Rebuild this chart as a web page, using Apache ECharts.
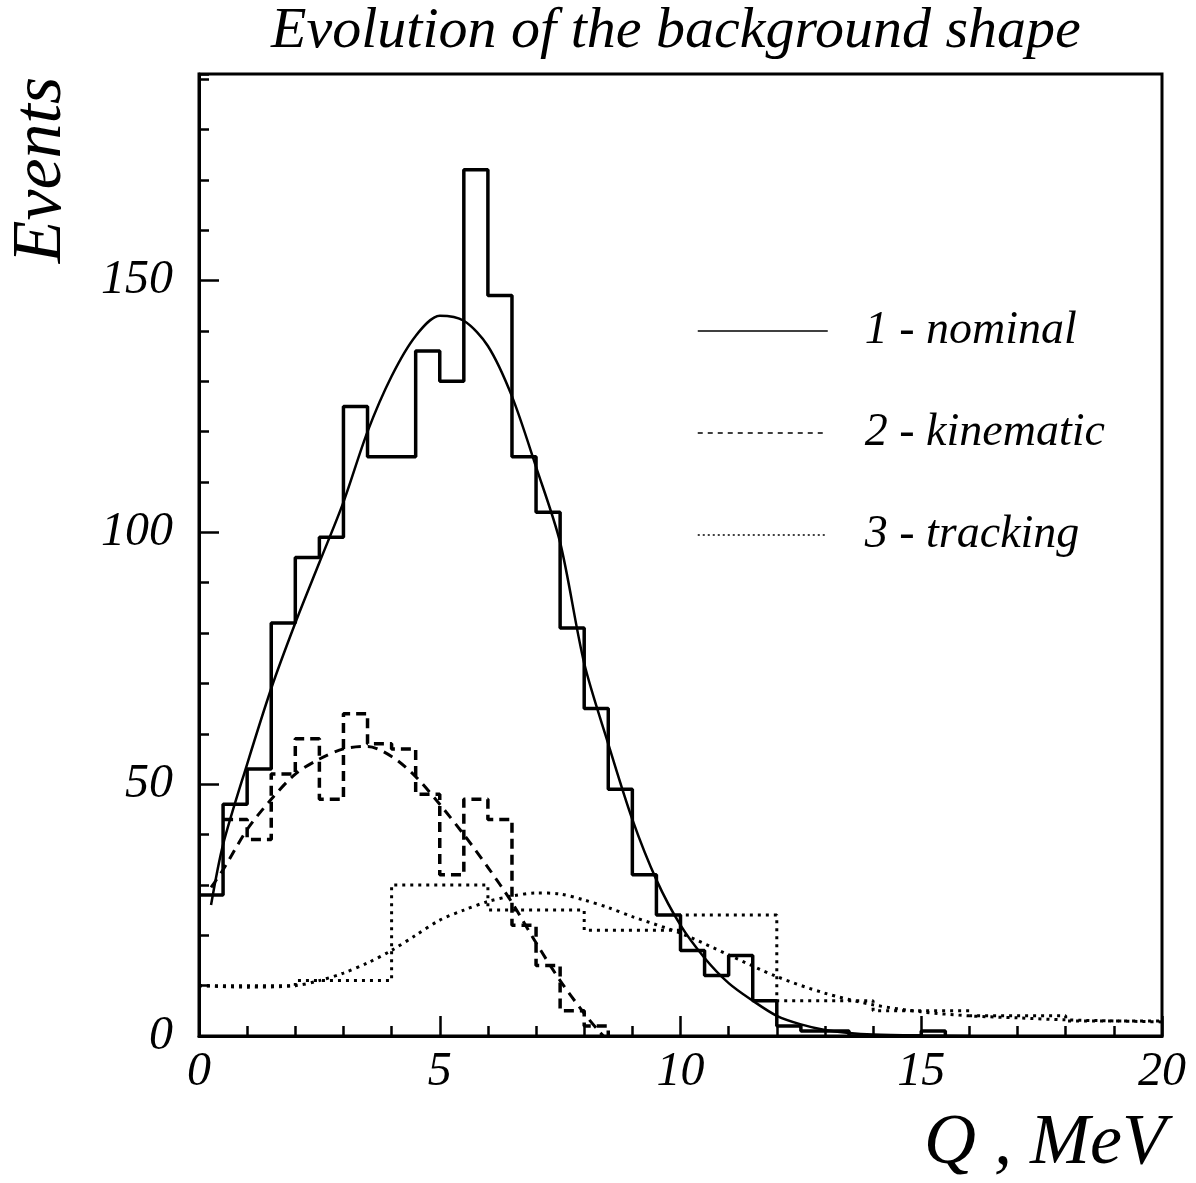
<!DOCTYPE html>
<html style="height: 100%">

<head>
    <meta charset="utf-8">
    <script type="text/javascript" src="https://cdn.jsdelivr.net/npm/echarts@6/dist/echarts.min.js"></script>
</head>

<body style="height: 100%; margin: 0; background: #fff">

    <div id="bgChart" style="height: 1183px;width: 1196px;"></div>

    <script type="text/javascript">
        // histogram bins (left edges, MeV) and contents
        var nomEdges = [0, 0.5, 1, 1.5, 2, 2.5, 3, 3.5, 4, 4.5, 5, 5.5, 6, 6.5, 7, 7.5, 8, 8.5, 9, 9.5, 10, 10.5, 11, 11.5, 12, 12.5, 13, 13.5, 14, 14.5, 15, 15.5];
        var nomCounts = [28, 46, 53, 82, 95, 99, 125, 115, 115, 136, 130, 172, 147, 115, 104, 81, 65, 49, 32, 24, 17, 12, 16, 7, 2, 1, 1, 0, 0, 0, 1, 0];

        var kinEdges = [0.5, 1, 1.5, 2, 2.5, 3, 3.5, 4, 4.5, 5, 5.5, 6, 6.5, 7, 7.5, 8, 8.5];
        var kinCounts = [43, 39, 52, 59, 47, 64, 58, 57, 48, 32, 47, 43, 22, 14, 5, 2, 0];

        var trkEdges = [0, 2, 4, 6, 8, 10, 12, 14, 16, 18, 20];
        var trkCounts = [10, 11, 30, 25, 21, 24, 7, 5, 4, 3, 3];

        // fitted curves
        var nomFitX = [0.25, 0.5, 1, 1.5, 2, 2.5, 3, 3.5, 4, 4.5, 5, 5.5, 6, 6.5, 7, 7.5, 8, 8.5, 9, 9.5, 10, 10.5, 11, 11.5, 12, 12.5, 13, 13.5, 14, 15, 16];
        var nomFitY = [26, 38, 54, 69, 82, 94, 106, 120, 131, 139, 143, 142, 137, 127, 113, 98, 74, 58, 43, 31, 22, 15.5, 10.5, 7, 4, 2.3, 1.2, 0.6, 0.3, 0.1, 0];

        var kinFitX = [0.25, 0.5, 1, 1.5, 2, 2.5, 3, 3.5, 4, 4.5, 5, 5.5, 6, 6.5, 7, 7.5, 8, 8.3, 8.4];
        var kinFitY = [29.5, 33, 41, 47, 52, 55, 57, 57.5, 55.5, 51.5, 46, 40, 33.5, 26.5, 18.5, 11, 4.5, 1, 0];

        var trkFitX = [0, 1, 2, 2.5, 3, 3.5, 4, 4.5, 5, 5.5, 6, 6.5, 7, 7.5, 8, 8.5, 9, 10, 11, 12, 13, 14, 15, 16, 17, 18, 19, 20];
        var trkFitY = [10, 9.7, 10, 11, 12.5, 14.5, 17, 20, 23, 25, 26.7, 27.8, 28.4, 28.2, 27, 25.5, 23.7, 20.4, 16.1, 11.8, 8.5, 6.2, 4.8, 4, 3.6, 3.2, 3, 2.8];

        var legendNames = ['1 - nominal', '2 - kinematic', '3 - tracking'];

        var FONT = '"Liberation Serif", "Times New Roman", serif';

        function histData(edges, counts) {
            var d = [];
            for (var i = 0; i < edges.length; i++) {
                d.push([edges[i], counts[i]]);
            }
            return d;
        }

        function pairs(xs, ys) {
            return xs.map(function (x, i) { return [x, ys[i]]; });
        }

        var chartDom = document.getElementById('bgChart');
        var bgChart = echarts.init(chartDom);

        var option = {
            animation: false,
            backgroundColor: '#fff',
            title: {
                text: 'Evolution of the background shape',
                left: 266,
                top: -2,
                textStyle: {
                    fontFamily: FONT,
                    fontStyle: 'italic',
                    fontWeight: 'normal',
                    fontSize: 58,
                    color: '#000'
                }
            },
            grid: {
                left: 199,
                top: 74,
                right: 34,
                bottom: 147,
                show: true,
                borderColor: '#000',
                borderWidth: 3,
                backgroundColor: 'transparent'
            },
            legend: {
                orient: 'vertical',
                left: 697,
                top: 306,
                padding: 0,
                itemWidth: 130,
                itemHeight: 12,
                itemGap: 52,
                selectedMode: false,
                itemStyle: { opacity: 0, color: 'transparent', borderWidth: 0 },
                data: [
                    { name: legendNames[0], lineStyle: { width: 1.5, type: 'solid' } },
                    { name: legendNames[1], lineStyle: { width: 1.3, type: [5, 5] } },
                    { name: legendNames[2], lineStyle: { width: 1.3, type: [2, 3] } }
                ],
                textStyle: {
                    fontFamily: FONT,
                    fontStyle: 'italic',
                    fontSize: 46,
                    lineHeight: 50,
                    color: '#000',
                    padding: [0, 0, 0, 32]
                }
            },
            xAxis: {
                type: 'value',
                min: 0,
                max: 20,
                interval: 5,
                axisLine: { show: true, lineStyle: { color: '#000', width: 3 } },
                axisTick: { show: true, inside: true, length: 20, lineStyle: { color: '#000', width: 2.5 } },
                minorTick: { show: true, splitNumber: 5, length: 10, lineStyle: { color: '#000', width: 2.5 } },
                splitLine: { show: false },
                axisLabel: {
                    margin: 12,
                    fontFamily: FONT,
                    fontStyle: 'italic',
                    fontSize: 48,
                    color: '#000'
                }
            },
            yAxis: [
                {
                    // minor ticks every 10
                    type: 'value',
                    min: 0,
                    max: 191,
                    interval: 10,
                    position: 'left',
                    axisLine: { show: true, lineStyle: { color: '#000', width: 3 } },
                    axisTick: { show: true, inside: true, length: 10, lineStyle: { color: '#000', width: 2.5 } },
                    axisLabel: { show: false },
                    splitLine: { show: false }
                },
                {
                    // major ticks + labels every 50
                    type: 'value',
                    min: 0,
                    max: 191,
                    interval: 50,
                    position: 'left',
                    offset: 0,
                    axisLine: { show: false },
                    axisTick: { show: true, inside: true, length: 20, lineStyle: { color: '#000', width: 2.5 } },
                    splitLine: { show: false },
                    axisLabel: {
                        showMaxLabel: false,
                        margin: 26,
                        fontFamily: FONT,
                        fontStyle: 'italic',
                        fontSize: 48,
                        color: '#000'
                    }
                }
            ],
            graphic: [
                {
                    type: 'text',
                    x: 42,
                    y: 170,
                    rotation: Math.PI / 2,
                    style: {
                        text: 'Events',
                        fontFamily: FONT,
                        fontStyle: 'italic',
                        fontSize: 70,
                        fill: '#000',
                        align: 'center',
                        verticalAlign: 'middle'
                    }
                },
                {
                    type: 'text',
                    x: 1166,
                    y: 1144,
                    style: {
                        text: 'Q , MeV',
                        fontFamily: FONT,
                        fontStyle: 'italic',
                        fontSize: 72,
                        fill: '#000',
                        align: 'right',
                        verticalAlign: 'middle'
                    }
                }
            ],
            series: [
                {
                    name: 'nominal histogram',
                    type: 'line',
                    step: 'end',
                    symbol: 'none',
                    data: histData(nomEdges, nomCounts),
                    lineStyle: { color: '#000', width: 3.5 },
                    z: 3
                },
                {
                    name: 'kinematic histogram',
                    type: 'line',
                    step: 'end',
                    symbol: 'none',
                    data: histData(kinEdges, kinCounts),
                    lineStyle: { color: '#000', width: 3.5, type: [10, 6] },
                    z: 3
                },
                {
                    name: 'tracking histogram',
                    type: 'line',
                    step: 'end',
                    symbol: 'none',
                    data: histData(trkEdges, trkCounts),
                    lineStyle: { color: '#000', width: 3, type: [3, 5] },
                    z: 3
                },
                {
                    name: legendNames[0],
                    type: 'line',
                    smooth: 0.3,
                    symbol: 'none',
                    data: pairs(nomFitX, nomFitY),
                    itemStyle: { color: '#000' },
                    lineStyle: { color: '#000', width: 2.5 },
                    z: 4
                },
                {
                    name: legendNames[1],
                    type: 'line',
                    smooth: 0.3,
                    symbol: 'none',
                    data: pairs(kinFitX, kinFitY),
                    itemStyle: { color: '#000' },
                    lineStyle: { color: '#000', width: 3, type: [10, 7] },
                    z: 4
                },
                {
                    name: legendNames[2],
                    type: 'line',
                    smooth: 0.3,
                    symbol: 'none',
                    data: pairs(trkFitX, trkFitY),
                    itemStyle: { color: '#000' },
                    lineStyle: { color: '#000', width: 3, type: [3, 5] },
                    z: 4
                }
            ]
        };

        bgChart.setOption(option);
    </script>
</body>

</html>
